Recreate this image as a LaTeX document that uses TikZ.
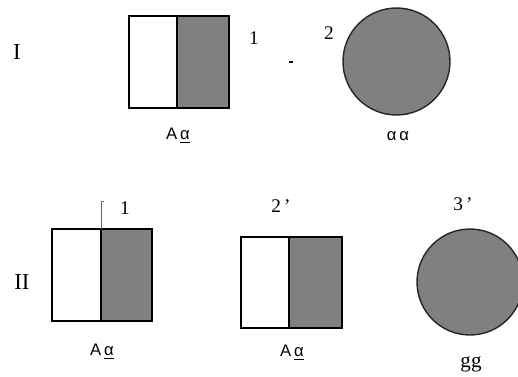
\documentclass[tikz,border=0pt]{standalone}
\usepackage{fontspec}
\setmainfont{Liberation Serif}
\newfontfamily\lblfont{Liberation Sans}
\definecolor{cellgray}{HTML}{808080}
\tikzset{epais/.style={line width=1.1pt}}
\newcommand{\cell}[5]{\fill[cellgray] (#2,#4) rectangle (#3,#5);
	\draw[epais] (#1,#4) rectangle (#3,#5);
	\draw[epais] (#2,#4) -- (#2,#5)}
\newcommand{\disc}[3]{\filldraw[fill=cellgray,draw=black!85,thick] (#1,#2) circle (#3)}

\begin{document}
\begin{tikzpicture}[x=0.02cm,y=-0.02cm,
	roman/.style={font=\fontsize{13}{15}\selectfont},
	num/.style={font=\fontsize{11}{13}\selectfont},
	geno/.style={font=\lblfont\fontsize{9.5}{11}\selectfont}]
\useasboundingbox (0,0) rectangle (518,376);
%First row
	\node[roman] (rowa) at (17,52) {I};
	\cell{129}{177}{229}{16}{108};
	\node[num] (na) at (254,38) {1};
	\draw[thick] (289,62) -- (293,62);
	\node[num] (nb) at (329,33) {2};
	\disc{396.5}{61.5}{1.07cm};
	\node[geno] (ga) at (178,136) {A\,\underline{α}};
	\node[geno] (gb) at (398,136) {α\,α};
%Second row
	\node[roman] (rowb) at (22,282) {II};
	\cell{52}{101}{152}{229}{321};
	\draw[black!60] (101,229) -- (101,201) -- (104,201);
	\node[num] (nc) at (125,208) {1};
	\cell{241}{289}{342}{237}{328};
	\node[num] (nd) at (281,206) {2\,'};
	\disc{470}{282}{1.06cm};
	\node[num] (ne) at (463,204) {3\,'};
	\node[geno] (gc) at (102,352) {A\,\underline{α}};
	\node[geno] (gd) at (292,353) {A\,\underline{α}};
	\node[font=\fontsize{12}{14}\selectfont] (ge) at (471,364) {gg};
\end{tikzpicture}
\end{document}
